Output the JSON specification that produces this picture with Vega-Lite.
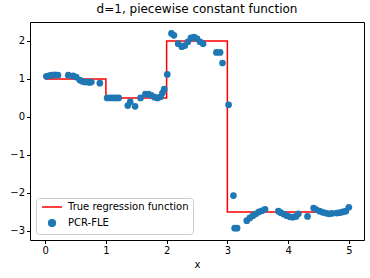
{
  "$schema": "https://vega.github.io/schema/vega-lite/v6.json",
  "width": 334,
  "height": 218,
  "autosize": {"type": "none"},
  "padding": {"left": 30, "top": 22, "right": 6, "bottom": 38},
  "title": {"text": "d=1, piecewise constant function", "fontSize": 12, "fontWeight": "normal", "font": "DejaVu Sans", "color": "black", "offset": 6},
  "config": {
    "view": {"stroke": "black", "strokeWidth": 1},
    "axis": {"labelFont": "DejaVu Sans", "titleFont": "DejaVu Sans", "labelFontSize": 10, "titleFontSize": 10, "titleFontWeight": "normal", "labelColor": "black", "titleColor": "black", "tickColor": "black", "domain": false, "grid": false, "tickSize": 3.5, "labelPadding": 2},
    "legend": {"labelFont": "DejaVu Sans", "labelFontSize": 10, "labelColor": "black"}
  },
  "datasets": {
    "truth": [
      {"x": 0, "y": 1, "series": "True regression function"},
      {"x": 1, "y": 0.5, "series": "True regression function"},
      {"x": 2, "y": 2, "series": "True regression function"},
      {"x": 3, "y": -2.5, "series": "True regression function"},
      {"x": 5, "y": -2.5, "series": "True regression function"}
    ],
    "est": [
      {"x": 0.02, "y": 1.07, "series": "PCR-FLE"},
      {"x": 0.07, "y": 1.09, "series": "PCR-FLE"},
      {"x": 0.11, "y": 1.1, "series": "PCR-FLE"},
      {"x": 0.16, "y": 1.11, "series": "PCR-FLE"},
      {"x": 0.21, "y": 1.1, "series": "PCR-FLE"},
      {"x": 0.38, "y": 1.1, "series": "PCR-FLE"},
      {"x": 0.46, "y": 1.08, "series": "PCR-FLE"},
      {"x": 0.51, "y": 1.05, "series": "PCR-FLE"},
      {"x": 0.57, "y": 0.97, "series": "PCR-FLE"},
      {"x": 0.61, "y": 0.94, "series": "PCR-FLE"},
      {"x": 0.65, "y": 0.92, "series": "PCR-FLE"},
      {"x": 0.69, "y": 0.92, "series": "PCR-FLE"},
      {"x": 0.73, "y": 0.91, "series": "PCR-FLE"},
      {"x": 0.76, "y": 0.92, "series": "PCR-FLE"},
      {"x": 0.9, "y": 0.89, "series": "PCR-FLE"},
      {"x": 1.02, "y": 0.5, "series": "PCR-FLE"},
      {"x": 1.07, "y": 0.5, "series": "PCR-FLE"},
      {"x": 1.12, "y": 0.5, "series": "PCR-FLE"},
      {"x": 1.17, "y": 0.5, "series": "PCR-FLE"},
      {"x": 1.21, "y": 0.5, "series": "PCR-FLE"},
      {"x": 1.36, "y": 0.3, "series": "PCR-FLE"},
      {"x": 1.4, "y": 0.4, "series": "PCR-FLE"},
      {"x": 1.48, "y": 0.28, "series": "PCR-FLE"},
      {"x": 1.57, "y": 0.5, "series": "PCR-FLE"},
      {"x": 1.65, "y": 0.6, "series": "PCR-FLE"},
      {"x": 1.7, "y": 0.6, "series": "PCR-FLE"},
      {"x": 1.75, "y": 0.57, "series": "PCR-FLE"},
      {"x": 1.8, "y": 0.52, "series": "PCR-FLE"},
      {"x": 1.85, "y": 0.5, "series": "PCR-FLE"},
      {"x": 1.9, "y": 0.53, "series": "PCR-FLE"},
      {"x": 1.93, "y": 0.63, "series": "PCR-FLE"},
      {"x": 1.96, "y": 0.73, "series": "PCR-FLE"},
      {"x": 2.01, "y": 1.12, "series": "PCR-FLE"},
      {"x": 2.08, "y": 2.2, "series": "PCR-FLE"},
      {"x": 2.12, "y": 2.15, "series": "PCR-FLE"},
      {"x": 2.19, "y": 1.93, "series": "PCR-FLE"},
      {"x": 2.25, "y": 1.85, "series": "PCR-FLE"},
      {"x": 2.3, "y": 1.88, "series": "PCR-FLE"},
      {"x": 2.35, "y": 1.98, "series": "PCR-FLE"},
      {"x": 2.4, "y": 2.08, "series": "PCR-FLE"},
      {"x": 2.45, "y": 2.1, "series": "PCR-FLE"},
      {"x": 2.5, "y": 2.06, "series": "PCR-FLE"},
      {"x": 2.55, "y": 1.98, "series": "PCR-FLE"},
      {"x": 2.6, "y": 1.93, "series": "PCR-FLE"},
      {"x": 2.82, "y": 1.7, "series": "PCR-FLE"},
      {"x": 2.88, "y": 1.7, "series": "PCR-FLE"},
      {"x": 2.92, "y": 1.42, "series": "PCR-FLE"},
      {"x": 3.02, "y": 0.32, "series": "PCR-FLE"},
      {"x": 3.1, "y": -2.07, "series": "PCR-FLE"},
      {"x": 3.12, "y": -2.93, "series": "PCR-FLE"},
      {"x": 3.16, "y": -2.93, "series": "PCR-FLE"},
      {"x": 3.32, "y": -2.73, "series": "PCR-FLE"},
      {"x": 3.37, "y": -2.66, "series": "PCR-FLE"},
      {"x": 3.42, "y": -2.6, "series": "PCR-FLE"},
      {"x": 3.47, "y": -2.55, "series": "PCR-FLE"},
      {"x": 3.52, "y": -2.5, "series": "PCR-FLE"},
      {"x": 3.57, "y": -2.47, "series": "PCR-FLE"},
      {"x": 3.62, "y": -2.43, "series": "PCR-FLE"},
      {"x": 3.84, "y": -2.48, "series": "PCR-FLE"},
      {"x": 3.88, "y": -2.52, "series": "PCR-FLE"},
      {"x": 3.93, "y": -2.56, "series": "PCR-FLE"},
      {"x": 3.98, "y": -2.6, "series": "PCR-FLE"},
      {"x": 4.03, "y": -2.63, "series": "PCR-FLE"},
      {"x": 4.08, "y": -2.64, "series": "PCR-FLE"},
      {"x": 4.13, "y": -2.62, "series": "PCR-FLE"},
      {"x": 4.17, "y": -2.55, "series": "PCR-FLE"},
      {"x": 4.32, "y": -2.62, "series": "PCR-FLE"},
      {"x": 4.42, "y": -2.4, "series": "PCR-FLE"},
      {"x": 4.46, "y": -2.44, "series": "PCR-FLE"},
      {"x": 4.52, "y": -2.48, "series": "PCR-FLE"},
      {"x": 4.57, "y": -2.51, "series": "PCR-FLE"},
      {"x": 4.62, "y": -2.53, "series": "PCR-FLE"},
      {"x": 4.67, "y": -2.55, "series": "PCR-FLE"},
      {"x": 4.72, "y": -2.54, "series": "PCR-FLE"},
      {"x": 4.8, "y": -2.53, "series": "PCR-FLE"},
      {"x": 4.85, "y": -2.52, "series": "PCR-FLE"},
      {"x": 4.9, "y": -2.5, "series": "PCR-FLE"},
      {"x": 4.95, "y": -2.48, "series": "PCR-FLE"},
      {"x": 5.0, "y": -2.38, "series": "PCR-FLE"}
    ]
  },
  "encoding": {
    "x": {"field": "x", "type": "quantitative", "scale": {"domain": [-0.25, 5.25], "nice": false, "zero": false}, "axis": {"values": [0, 1, 2, 3, 4, 5], "title": "x", "titlePadding": 4}},
    "y": {"field": "y", "type": "quantitative", "scale": {"domain": [-3.24, 2.5], "nice": false, "zero": false}, "axis": {"values": [-3, -2, -1, 0, 1, 2], "title": null, "format": "d"}},
    "color": {"field": "series", "type": "nominal", "scale": {"domain": ["True regression function", "PCR-FLE"], "range": ["red", "#1f77b4"]},
      "legend": {"title": null, "orient": "bottom-left", "offset": 6, "padding": 4, "strokeColor": "#cccccc", "fillColor": "white", "cornerRadius": 3, "rowPadding": 4, "symbolSize": 45, "symbolOffset": 7, "labelOffset": 11,
        "encode": {"symbols": {"update": {"stroke": {"scale": "color", "field": "value"}, "strokeWidth": {"value": 1.5}}}}}},
    "shape": {"field": "series", "type": "nominal", "scale": {"domain": ["True regression function", "PCR-FLE"], "range": ["M-3,0H3", "circle"]}, "legend": {"title": null}}
  },
  "layer": [
    {"data": {"name": "truth"}, "mark": {"type": "line", "interpolate": "step-after", "strokeWidth": 1.5}, "encoding": {"shape": null}},
    {"data": {"name": "est"}, "mark": {"type": "point", "filled": true, "opacity": 1, "size": 45}}
  ]
}
